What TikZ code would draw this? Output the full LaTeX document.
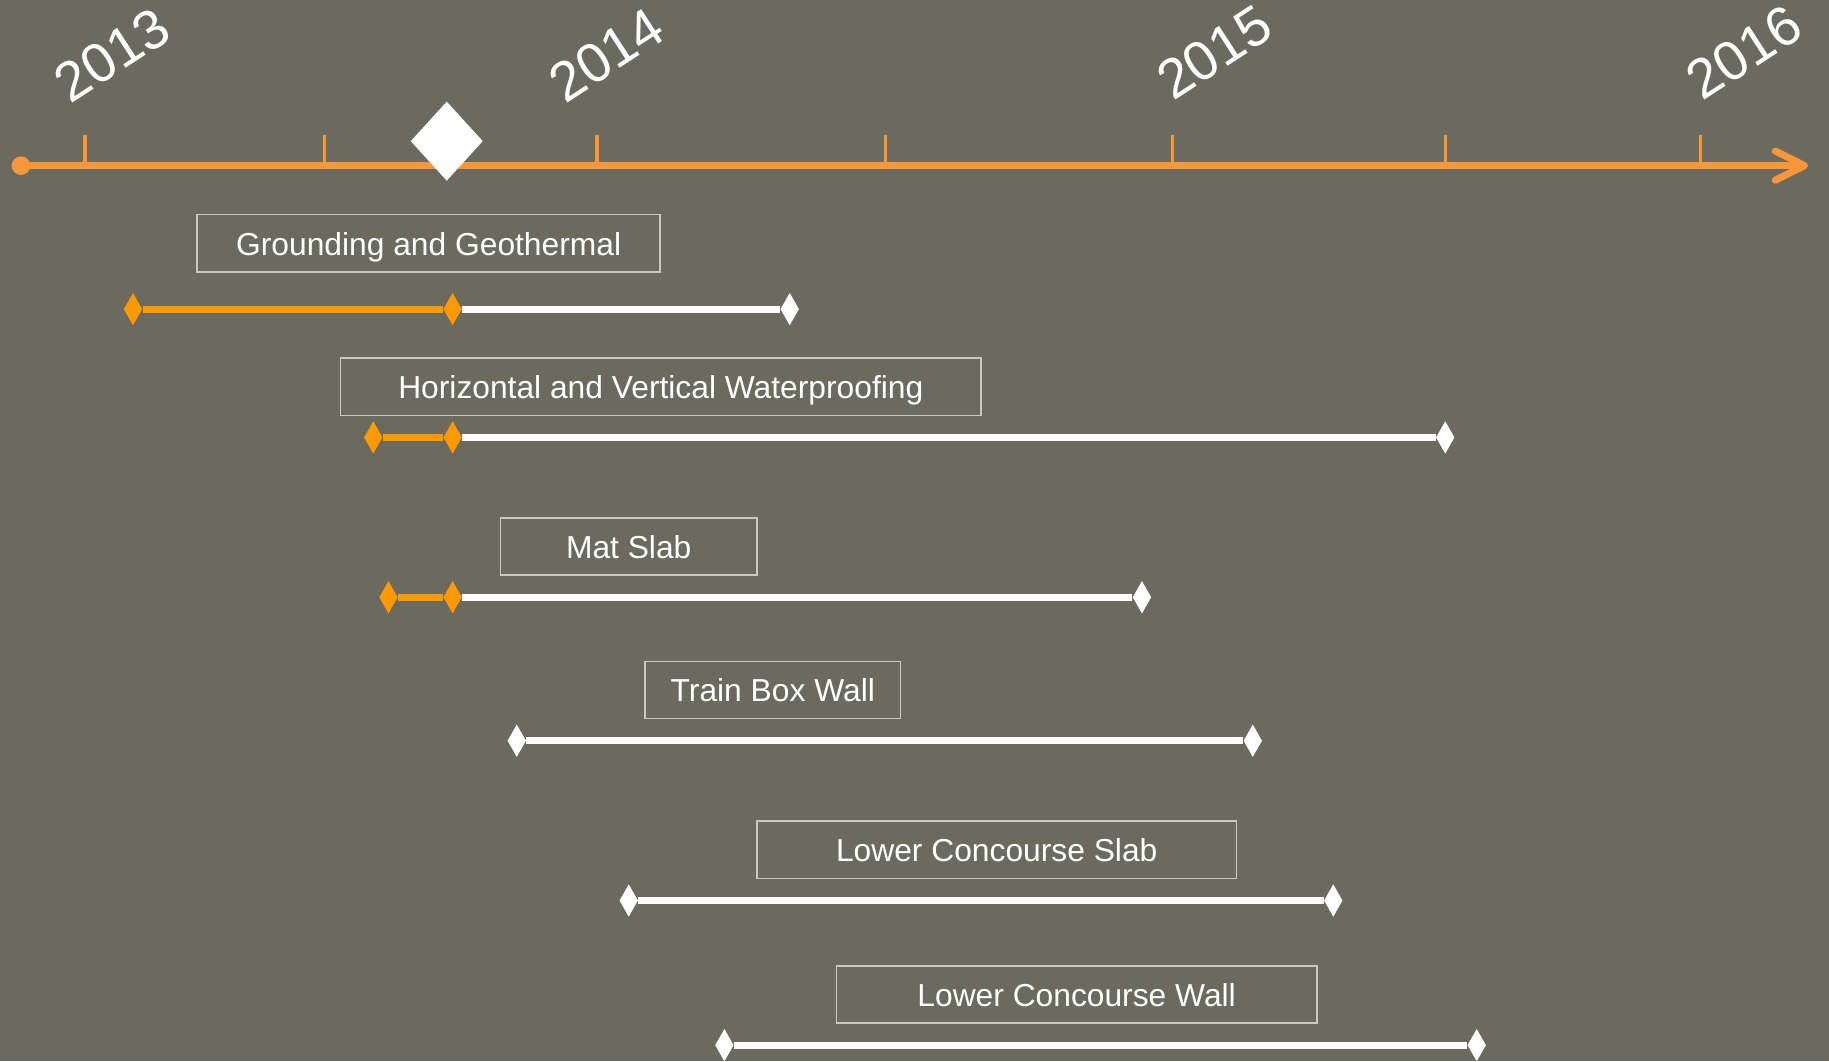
\documentclass[tikz,border=0pt]{standalone}
\usepackage{fontspec}
\setmainfont{Liberation Sans}
\usetikzlibrary{arrows.meta,shapes.geometric}

\definecolor{slate}{HTML}{6A6B5E}
\definecolor{axisorange}{HTML}{F7963A}
\definecolor{barorange}{HTML}{FF9900}
\definecolor{boxline}{HTML}{C9C9C2}

\tikzset{
  donedia/.style={diamond,fill=barorange,inner sep=0pt,minimum width=0.32cm,minimum height=0.56cm},
  tododia/.style={donedia,fill=white},
  taskbox/.style={draw=boxline,line width=0.7pt,text=white,inner sep=0pt,
    minimum height=0.98cm,text height=11.6pt,text depth=0pt,font=\fontsize{15.5}{18}\selectfont},
  donebar/.style={barorange,line width=0.12cm},
  todobar/.style={white,line width=0.12cm},
  yearlabel/.style={text=white,rotate=33,font=\fontsize{27}{32}\selectfont},
  yeartick/.style={axisorange,line width=0.06cm}
}

\begin{document}
\begin{tikzpicture}[x=0.02cm,y=-0.02cm]
  % background
  \useasboundingbox (0,0) rectangle (1568,910);
  \fill[slate] (0,0) rectangle (1568,910);

  % time axis
  \node[circle,fill=axisorange,inner sep=0pt,minimum size=0.32cm] (start) at (18,142) {};
  \coordinate (axisend) at (1550,142);
  \draw[axisorange,line width=0.12cm,-{Straight Barb[length=0.5cm,width=0.5cm,round]}]
    (start.center) -- (axisend);
  \foreach \tx in {73,278,512,759,1005,1239,1458}
    \draw[yeartick] (\tx,116) -- (\tx,142);

  % years
  \node[yearlabel] (y2013) at (96,47) {2013};
  \node[yearlabel] (y2014) at (520,47) {2014};
  \node[yearlabel] (y2015) at (1041,45) {2015};
  \node[yearlabel] (y2016) at (1495,45) {2016};

  % today
  \node[diamond,fill=white,inner sep=0pt,minimum width=1.24cm,minimum height=1.36cm] (today) at (383,121) {};

  % grounding and geothermal
  \node[taskbox,minimum width=7.94cm] (ground) at (367.5,208.5) {Grounding and Geothermal};
  \node[donedia] (ground-a) at (114,265) {};
  \node[donedia] (ground-b) at (388,265) {};
  \node[tododia] (ground-c) at (677,265) {};
  \draw[donebar] (ground-a) -- (ground-b);
  \draw[todobar] (ground-b) -- (ground-c);

  % waterproofing
  \node[taskbox,minimum width=10.98cm] (water) at (566.5,331.5) {Horizontal and Vertical Waterproofing};
  \node[donedia] (water-a) at (320,375) {};
  \node[donedia] (water-b) at (388,375) {};
  \node[tododia] (water-c) at (1239,375) {};
  \draw[donebar] (water-a) -- (water-b);
  \draw[todobar] (water-b) -- (water-c);

  % mat slab
  \node[taskbox,minimum width=4.4cm] (mat) at (539,468.5) {Mat Slab};
  \node[donedia] (mat-a) at (333,512) {};
  \node[donedia] (mat-b) at (388,512) {};
  \node[tododia] (mat-c) at (979,512) {};
  \draw[donebar] (mat-a) -- (mat-b);
  \draw[todobar] (mat-b) -- (mat-c);

  % train box wall
  \node[taskbox,minimum width=4.38cm] (tbw) at (662.5,591.5) {Train Box Wall};
  \node[tododia] (tbw-a) at (443,635) {};
  \node[tododia] (tbw-b) at (1074,635) {};
  \draw[todobar] (tbw-a) -- (tbw-b);

  % lower concourse slab
  \node[taskbox,minimum width=8.22cm] (lcs) at (854.5,728.5) {Lower Concourse Slab};
  \node[tododia] (lcs-a) at (539,772) {};
  \node[tododia] (lcs-b) at (1143,772) {};
  \draw[todobar] (lcs-a) -- (lcs-b);

  % lower concourse wall
  \node[taskbox,minimum width=8.24cm] (lcw) at (923,852.5) {Lower Concourse Wall};
  \node[tododia] (lcw-a) at (621,896) {};
  \node[tododia] (lcw-b) at (1266,896) {};
  \draw[todobar] (lcw-a) -- (lcw-b);
\end{tikzpicture}
\end{document}
